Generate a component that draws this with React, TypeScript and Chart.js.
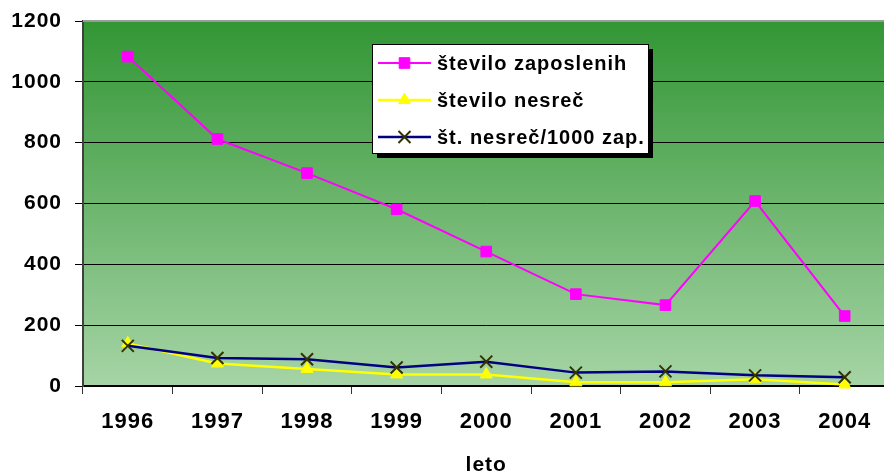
import React, { useEffect, useRef } from 'react';
import { Chart, registerables } from 'chart.js';

Chart.register(...registerables);

const years = ['1996', '1997', '1998', '1999', '2000', '2001', '2002', '2003', '2004'];
const employees = [1083, 812, 700, 581, 442, 302, 266, 608, 230];
const accidents = [140, 74, 56, 38, 38, 12, 12, 22, 5];
const ratePer1000 = [132, 92, 88, 61, 80, 44, 48, 35, 29];
const seriesLabels = ['število zaposlenih', 'število nesreč', 'št. nesreč/1000 zap.'];
const xTitle = 'leto';
const yMin = 0;
const yMax = 1200;
const yStep = 200;

const FONT = '"Liberation Sans", Arial, sans-serif';

const bgPlugin = {
  id: 'bgPlugin',
  beforeDraw(chart: any) {
    const { ctx, chartArea } = chart;
    ctx.letterSpacing = '1px';
    const g = ctx.createLinearGradient(0, chartArea.top, 0, chartArea.bottom);
    g.addColorStop(0, '#329634');
    g.addColorStop(1, '#a6d4a6');
    ctx.save();
    ctx.fillStyle = g;
    ctx.fillRect(chartArea.left, chartArea.top, chartArea.right - chartArea.left, chartArea.bottom - chartArea.top);
    ctx.restore();
  },
  beforeDatasetsDraw(chart: any) {
    const { ctx, chartArea } = chart;
    ctx.save();
    ctx.strokeStyle = '#9a9a9a';
    ctx.lineWidth = 2;
    ctx.beginPath();
    ctx.moveTo(chartArea.left, chartArea.top);
    ctx.lineTo(chartArea.right, chartArea.top);
    ctx.stroke();
    ctx.restore();
  },
};

const legendPlugin = {
  id: 'customLegend',
  afterDatasetsDraw(chart: any) {
    const { ctx } = chart;
    const bx = 372, by = 44, bw = 276, bh = 109;
    ctx.save();
    ctx.fillStyle = '#000';
    ctx.fillRect(bx + 5, by + 5, bw, bh);
    ctx.fillStyle = '#fff';
    ctx.fillRect(bx, by, bw, bh);
    ctx.strokeStyle = '#000';
    ctx.lineWidth = 1;
    ctx.strokeRect(bx + 0.5, by + 0.5, bw, bh);
    const rows = [63, 100, 137];
    const ds = chart.data.datasets;
    [0, 1, 2].forEach((i, r) => {
      const d = ds[i];
      const y = rows[r];
      ctx.strokeStyle = d.borderColor;
      ctx.lineWidth = d.borderWidth;
      ctx.beginPath();
      ctx.moveTo(378, y);
      ctx.lineTo(431, y);
      ctx.stroke();
      const cx = 404.5;
      const rad = d.pointRadius;
      ctx.fillStyle = d.pointBackgroundColor;
      ctx.strokeStyle = d.pointBorderColor;
      ctx.lineWidth = d.pointBorderWidth;
      ctx.beginPath();
      if (d.pointStyle === 'rect') {
        const s = Math.SQRT1_2 * rad;
        ctx.rect(cx - s, y - s, 2 * s, 2 * s);
        ctx.fill();
        ctx.stroke();
      } else if (d.pointStyle === 'triangle') {
        const h = Math.sin(Math.PI / 3) * rad;
        ctx.moveTo(cx, y - rad);
        ctx.lineTo(cx + h, y + rad / 2);
        ctx.lineTo(cx - h, y + rad / 2);
        ctx.closePath();
        ctx.fill();
        ctx.stroke();
      } else {
        const o = Math.SQRT1_2 * rad;
        ctx.moveTo(cx - o, y - o);
        ctx.lineTo(cx + o, y + o);
        ctx.moveTo(cx + o, y - o);
        ctx.lineTo(cx - o, y + o);
        ctx.stroke();
      }
      ctx.fillStyle = '#000';
      ctx.font = `bold 20px ${FONT}`;
      ctx.letterSpacing = '1px';
      ctx.textAlign = 'left';
      ctx.textBaseline = 'middle';
      ctx.fillText(seriesLabels[i], 437, y + 1);
    });
    ctx.restore();
  },
};

export default function App() {
  const ref = useRef<HTMLCanvasElement | null>(null);
  useEffect(() => {
    if (!ref.current) return;
    Chart.defaults.font.family = FONT;
    const chart = new Chart(ref.current, {
      type: 'line',
      data: {
        labels: years,
        datasets: [
          {
            label: seriesLabels[0],
            data: employees,
            borderColor: '#ff00ff',
            backgroundColor: '#ff00ff',
            borderWidth: 2,
            pointStyle: 'rect',
            pointRadius: 7.5,
            pointBackgroundColor: '#ff00ff',
            pointBorderColor: '#ff00ff',
            pointBorderWidth: 1,
            tension: 0,
            clip: false,
            order: 2,
          },
          {
            label: seriesLabels[1],
            data: accidents,
            borderColor: '#ffff00',
            backgroundColor: '#ffff00',
            borderWidth: 2.5,
            pointStyle: 'triangle',
            pointRadius: 7,
            pointBackgroundColor: '#ffff00',
            pointBorderColor: '#ffff00',
            pointBorderWidth: 1,
            tension: 0,
            clip: false,
            order: 1,
          },
          {
            label: seriesLabels[2],
            data: ratePer1000,
            borderColor: '#000080',
            backgroundColor: '#000080',
            borderWidth: 2.5,
            pointStyle: 'crossRot',
            pointRadius: 8.5,
            pointBackgroundColor: '#333300',
            pointBorderColor: '#333300',
            pointBorderWidth: 2,
            tension: 0,
            clip: false,
            order: 0,
          },
        ],
      },
      options: {
        responsive: false,
        animation: false,
        events: [],
        layout: { padding: { left: 0, top: 21, right: 7, bottom: 0 } },
        plugins: {
          legend: { display: false },
          tooltip: { enabled: false },
          title: { display: false },
        },
        scales: {
          x: {
            type: 'category',
            offset: true,
            afterFit: (s: any) => { s.height = 87; s.paddingLeft = 0; s.paddingRight = 0; s.paddingTop = 0; s.paddingBottom = 0; },
            grid: { offset: true, drawOnChartArea: false, tickLength: 8, color: '#333', lineWidth: 1 },
            border: { color: '#000', width: 2 },
            ticks: { color: '#000', font: { size: 22, weight: 'bold' }, padding: 15, maxRotation: 0, autoSkip: false },
            title: { display: true, text: xTitle, color: '#000', font: { size: 21, weight: 'bold' }, padding: { top: 0, bottom: -5 } },
          },
          y: {
            min: yMin,
            max: yMax,
            afterFit: (s: any) => { s.width = 83; s.paddingTop = 0; s.paddingBottom = 0; s.paddingLeft = 0; s.paddingRight = 0; },
            grid: { color: '#000', lineWidth: 1, tickLength: 8 },
            border: { color: '#404040', width: 2 },
            ticks: {
              stepSize: yStep,
              color: '#000',
              font: { size: 21, weight: 'bold' },
              padding: 13,
              callback: (v: any) => String(v),
            },
          },
        },
      },
      plugins: [bgPlugin, legendPlugin],
    } as any);
    return () => chart.destroy();
  }, []);
  return (
    <div style={{ position: 'fixed', left: 0, top: 0, width: 884, height: 473, overflow: 'hidden', background: '#fff' }}>
      <canvas ref={ref} width={900} height={473} style={{ display: 'block' }} />
    </div>
  );
}
